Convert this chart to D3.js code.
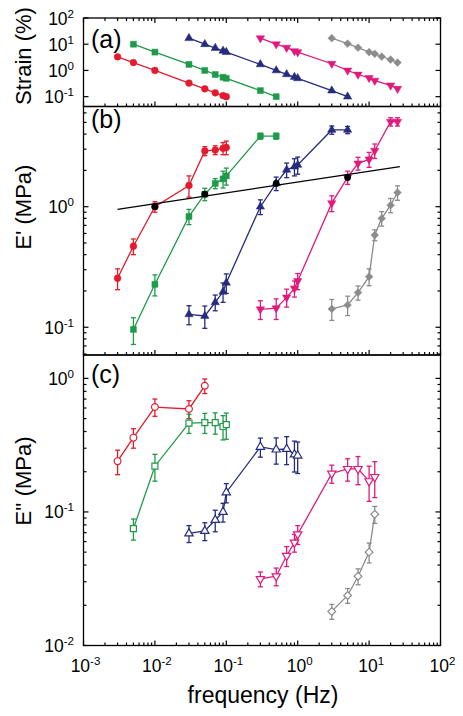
<!DOCTYPE html>
<html><head><meta charset="utf-8">
<script src="https://cdn.jsdelivr.net/npm/d3@7"></script>
<style>body{margin:0;background:#fff}svg{display:block}text{font-family:"Liberation Sans",Arial,sans-serif}</style>
</head><body><svg id="c" width="463" height="716"></svg>
<script>
// ---------- data ----------
const redF = [0.003,0.005,0.01,0.03,0.05,0.07,0.09,0.1];
const redStrain = [3.3,2.0,1.0,0.33,0.2,0.14,0.11,0.1];
const redEp = [0.255,0.47,1.0,1.5,2.9,2.95,3.05,3.1];
const redEpErr = [0.05,0.07,0.1,0.3,0.25,0.25,0.35,0.4];
const redEppF = [0.003,0.005,0.01,0.03,0.05];
const redEpp = [0.24,0.36,0.61,0.59,0.88];
const redEppErr = [0.05,0.06,0.09,0.09,0.11];

const greenF = [0.005,0.01,0.03,0.05,0.07,0.09,0.1,0.3,0.5];
const greenStrain = [10,5,1.7,1.0,0.7,0.55,0.5,0.17,0.1];
const greenEp = [0.096,0.227,0.83,1.27,1.56,1.70,1.80,3.85,3.85];
const greenEpErr = [0.024,0.045,0.12,0.15,0.15,0.27,0.29,0.22,0.22];
const greenEppF = [0.005,0.01,0.03,0.05,0.07,0.09,0.1];
const greenEpp = [0.075,0.22,0.463,0.467,0.467,0.436,0.45];
const greenEppErr = [0.0135,0.05,0.076,0.08,0.085,0.09,0.1];

const blueF = [0.03,0.05,0.07,0.09,0.1,0.3,0.5,0.7,0.9,1,3,5];
const blueStrain = [17,10,7.1,5.6,5,1.7,1.0,0.71,0.56,0.5,0.17,0.1];
const blueEp = [0.128,0.124,0.161,0.197,0.234,1.0,1.56,2.02,2.15,2.22,4.33,4.33];
const blueEpErr = [0.023,0.026,0.024,0.036,0.043,0.14,0.2,0.28,0.35,0.36,0.34,0.3];
const blueEppF = [0.03,0.05,0.07,0.09,0.1,0.3,0.5,0.7,0.9,1];
const blueEpp = [0.069,0.072,0.087,0.1,0.14,0.307,0.293,0.296,0.269,0.264];
const blueEppErr = [0.01,0.011,0.016,0.016,0.023,0.05,0.065,0.07,0.07,0.07];

const magF = [0.3,0.5,0.7,0.9,1,3,5,7,10,12,20,25];
const magStrain = [17,10,7.4,5.5,5,1.8,1.0,0.7,0.52,0.41,0.27,0.2];
const magEp = [0.141,0.144,0.177,0.21,0.242,1.07,1.75,2.29,2.47,2.91,5.07,5.07];
const magEpErr = [0.025,0.028,0.03,0.032,0.037,0.16,0.22,0.28,0.35,0.4,0.4,0.4];
const magEppF = [0.3,0.5,0.7,0.9,1,3,5,7,10,12];
const magEpp = [0.0315,0.033,0.047,0.059,0.068,0.194,0.21,0.21,0.17,0.183];
const magEppErr = [0.004,0.005,0.008,0.009,0.011,0.03,0.04,0.05,0.05,0.055];

const grayF = [3,5,7,10,12,15,20,25];
const grayStrain = [17,10.5,7.4,5.0,4.3,3.4,2.6,2.0];
const grayEp = [0.142,0.153,0.194,0.263,0.582,0.80,1.03,1.31];
const grayEpErr = [0.028,0.028,0.026,0.042,0.06,0.11,0.14,0.18];
const grayEppF = [3,5,7,10,12];
const grayEpp = [0.018,0.0237,0.033,0.05,0.096];
const grayEppErr = [0.0023,0.003,0.0045,0.0085,0.014];

const lineF = [0.003,27];
const lineEp = [0.95,2.15];
const blackF = [0.01,0.05,0.5,5];
const blackEp = [1.0,1.27,1.56,1.75];

const xTickExp = [-3,-2,-1,0,1,2];
const aTickExp = [-1,0,1,2];
const bTickExp = [-1,0];
const cTickExp = [-2,-1,0];

// ---------- layout ----------
const svg = d3.select('#c');
const L = 83.5, R = 440.5;
const x = d3.scaleLog().domain([1e-3,1e2]).range([L,R]);
const panels = {
  a:{top:18, bot:106.5, y:d3.scaleLog().domain([Math.pow(10,-1.375),100]).range([106.5,18])},
  b:{top:106.5, bot:355, y:d3.scaleLog().domain([Math.pow(10,-1.23),Math.pow(10,0.831)]).range([355,106.5])},
  c:{top:355, bot:645.5, y:d3.scaleLog().domain([0.01,Math.pow(10,0.175)]).range([645.5,355])}
};
const C = {red:'#e31b2c', green:'#1f9a4a', blue:'#252b7d', mag:'#df1a7c', gray:'#8c8c8c'};

function sup(t, exp, size){
  t.append('tspan').text('10');
  t.append('tspan').attr('dy',-7).attr('font-size',size).text(exp);
}

function decadeTicks(scale){
  const [d0,d1] = scale.domain();
  const out=[];
  for(let e=Math.floor(Math.log10(d0)); e<=Math.ceil(Math.log10(d1)); e++){
    for(let m=1;m<10;m++){
      const v=m*Math.pow(10,e);
      if(v>=d0*0.9999 && v<=d1*1.0001) out.push({v, major:m===1});
    }
  }
  return out;
}

const axG = svg.append('g').attr('stroke','#000').attr('stroke-width',1.2);
const xt = decadeTicks(x);
function xTicks(yy, dir){
  axG.selectAll(null).data(xt).enter().append('line')
    .attr('x1',d=>x(d.v)).attr('x2',d=>x(d.v))
    .attr('y1',yy).attr('y2',d=>yy+dir*(d.major?5:3));
}
xTicks(panels.a.top, 1);
xTicks(panels.a.bot, -1);
xTicks(panels.b.bot, -1);
xTicks(panels.c.bot, -1);

function yTicks(p, minor){
  const t = decadeTicks(p.y).filter(d=>minor||d.major);
  [L,R].forEach((xx,i)=>{
    const dir = i===0?1:-1;
    axG.selectAll(null).data(t).enter().append('line')
      .attr('y1',d=>p.y(d.v)).attr('y2',d=>p.y(d.v))
      .attr('x1',xx).attr('x2',d=>xx+dir*(d.major?5:3));
  });
}
yTicks(panels.a,false);
yTicks(panels.b,true);
yTicks(panels.c,true);

Object.values(panels).forEach(p=>{
  svg.append('rect').attr('x',L).attr('y',p.top).attr('width',R-L).attr('height',p.bot-p.top)
    .attr('fill','none').attr('stroke','#000').attr('stroke-width',1.3);
});

function yLabels(p, exps){
  exps.forEach(e=>{
    const t = svg.append('text').attr('x',74).attr('y',p.y(Math.pow(10,e))+6.5)
      .attr('text-anchor','end').attr('font-size',17.5).attr('fill','#000');
    sup(t, String(e), 11.5);
  });
}
yLabels(panels.a, aTickExp);
yLabels(panels.b, bTickExp);
yLabels(panels.c, cTickExp);

xTickExp.forEach(e=>{
  const t = svg.append('text').attr('x',x(Math.pow(10,e))+2).attr('y',672)
    .attr('text-anchor','middle').attr('font-size',17.5).attr('fill','#000');
  sup(t, String(e), 11.5);
});

svg.append('text').attr('x',263).attr('y',703).attr('text-anchor','middle').attr('font-size',23).text('frequency (Hz)');
[['Strain (%)',56],["E' (MPa)",207],["E'' (MPa)",481]].forEach(([s,cy])=>{
  svg.append('text').attr('transform',`translate(31,${cy}) rotate(-90)`).attr('text-anchor','middle')
    .attr('font-size',22).text(s);
});
[['(a)',48],['(b)',128],['(c)',383]].forEach(([s,yy])=>{
  svg.append('text').attr('x',91).attr('y',yy).attr('font-size',25).text(s);
});

// ---------- series ----------
const shapes = {
  circle:{gen:d3.symbol().type(d3.symbolCircle).size(36), rot:0},
  square:{gen:d3.symbol().type(d3.symbolSquare).size(36), rot:0},
  tri:{gen:d3.symbol().type(d3.symbolTriangle).size(30), rot:0},
  down:{gen:d3.symbol().type(d3.symbolTriangle).size(30), rot:180},
  diamond:{gen:d3.symbol().type(d3.symbolSquare).size(30), rot:45}
};
function drawSeries(p, fs, vs, errs, color, shape, open){
  const g = svg.append('g');
  const pts = fs.map((f,i)=>({f, v:vs[i], e:errs?errs[i]:0}));
  g.append('path').datum(pts)
    .attr('d', d3.line().x(d=>x(d.f)).y(d=>p.y(d.v)))
    .attr('fill','none').attr('stroke',color).attr('stroke-width',1.3);
  if(errs){
    const eg = g.append('g').attr('stroke',color).attr('stroke-width',1.3);
    pts.forEach(d=>{
      const cx=x(d.f), y1=p.y(d.v+d.e), y2=p.y(Math.max(d.v-d.e,1e-6));
      eg.append('line').attr('x1',cx).attr('x2',cx).attr('y1',y1).attr('y2',y2);
      eg.append('line').attr('x1',cx-2.5).attr('x2',cx+2.5).attr('y1',y1).attr('y2',y1);
      eg.append('line').attr('x1',cx-2.5).attr('x2',cx+2.5).attr('y1',y2).attr('y2',y2);
    });
  }
  const sh = shapes[shape];
  g.selectAll(null).data(pts).enter().append('path')
    .attr('d', sh.gen)
    .attr('transform', d=>`translate(${x(d.f)},${p.y(d.v)}) rotate(${sh.rot})`)
    .attr('fill', open?'#fff':color)
    .attr('stroke', color).attr('stroke-width', open?1.2:0.5);
}

drawSeries(panels.a, redF, redStrain, null, C.red, 'circle');
drawSeries(panels.a, greenF, greenStrain, null, C.green, 'square');
drawSeries(panels.a, blueF, blueStrain, null, C.blue, 'tri');
drawSeries(panels.a, magF, magStrain, null, C.mag, 'down');
drawSeries(panels.a, grayF, grayStrain, null, C.gray, 'diamond');

drawSeries(panels.b, redF, redEp, redEpErr, C.red, 'circle');
drawSeries(panels.b, greenF, greenEp, greenEpErr, C.green, 'square');
drawSeries(panels.b, blueF, blueEp, blueEpErr, C.blue, 'tri');
drawSeries(panels.b, magF, magEp, magEpErr, C.mag, 'down');
drawSeries(panels.b, grayF, grayEp, grayEpErr, C.gray, 'diamond');
svg.append('path').datum(lineF.map((f,i)=>({f,v:lineEp[i]})))
  .attr('d', d3.line().x(d=>x(d.f)).y(d=>panels.b.y(d.v)))
  .attr('stroke','#000').attr('stroke-width',1.3).attr('fill','none');
svg.selectAll(null).data(blackF.map((f,i)=>({f,v:blackEp[i]}))).enter().append('path')
  .attr('d', shapes.circle.gen)
  .attr('transform', d=>`translate(${x(d.f)},${panels.b.y(d.v)})`)
  .attr('fill','#000');

drawSeries(panels.c, redEppF, redEpp, redEppErr, C.red, 'circle', true);
drawSeries(panels.c, greenEppF, greenEpp, greenEppErr, C.green, 'square', true);
drawSeries(panels.c, blueEppF, blueEpp, blueEppErr, C.blue, 'tri', true);
drawSeries(panels.c, magEppF, magEpp, magEppErr, C.mag, 'down', true);
drawSeries(panels.c, grayEppF, grayEpp, grayEppErr, C.gray, 'diamond', true);
</script></body></html>
